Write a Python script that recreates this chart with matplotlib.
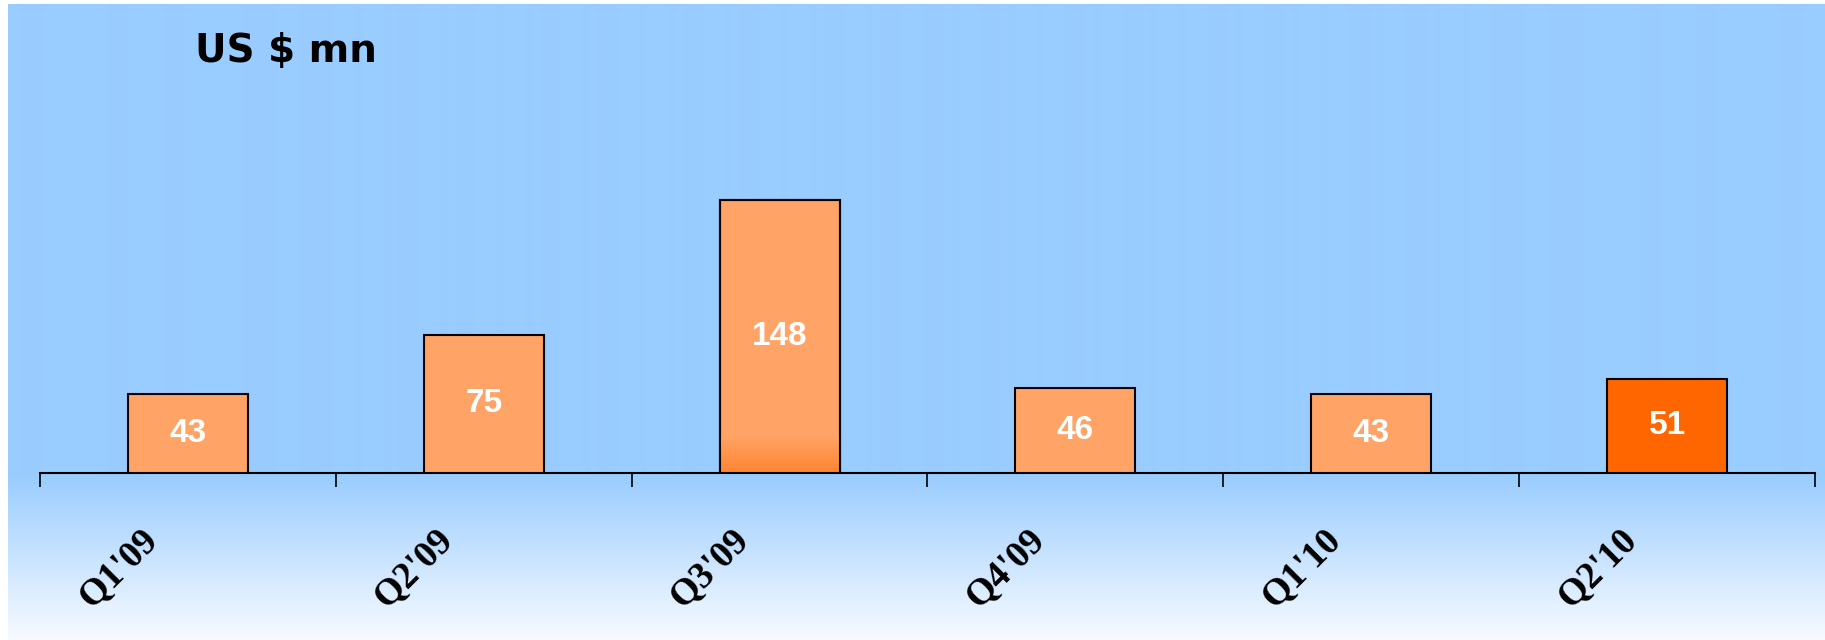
import numpy as np
import matplotlib
matplotlib.use('Agg')
from matplotlib import pyplot as plt
from matplotlib import transforms as mtransforms
from matplotlib.colors import to_rgb

# data
quarters = ["Q1'09", "Q2'09", "Q3'09", "Q4'09", "Q1'10", "Q2'10"]
values = [43, 75, 148, 46, 43, 51]
bar_colors = ['#FFA366', '#FFA366', '#FFA366', '#FFA366', '#FFA366', '#FF6600']

W, H = 1825, 640
fig = plt.figure(figsize=(W / 100, H / 100), dpi=100, facecolor='white')

# background: flat blue above the axis line, fading to white below it
bg = fig.add_axes([0, 0, 1, 1])
bg.set_xlim(0, W)
bg.set_ylim(H, 0)
bg.set_axis_off()
axis_y = 473
top_col = np.array(to_rgb('#99CCFF'))
bot_col = np.array(to_rgb('#F8FBFF'))
rows = np.arange(4, H)
t = np.clip((rows - axis_y) / (H - axis_y), 0, 1)[:, None]
grad = (top_col * (1 - t) + bot_col * t)[:, None, :]
bg.imshow(grad, extent=[8, W, H, 4], aspect='auto', interpolation='bilinear')

# main axes
ax = fig.add_axes([40 / W, (H - axis_y) / H, (1815 - 40) / W, (axis_y - 4) / H])
ax.patch.set_alpha(0)
x = np.arange(len(values))
bars = ax.bar(x, values, width=0.406, color=bar_colors, edgecolor='black', linewidth=1.5, zorder=3)

# darker fade at the foot of the tallest bar
b = bars[2]
fade = np.linspace(0, 1, 50)[:, None]
c0 = np.array(to_rgb('#FFA366'))
c1 = np.array(to_rgb('#FF8530'))
fimg = (c0 * (1 - fade) + c1 * fade)[:, None, :]
ax.imshow(fimg, extent=[b.get_x(), b.get_x() + b.get_width(), 0, 20], aspect='auto',
          interpolation='bilinear', zorder=3.5)
ax.bar(x[2], values[2], width=0.406, facecolor='none', edgecolor='black', linewidth=1.5, zorder=4)

for xi, v in zip(x, values):
    ax.text(xi, v / 2, str(v), ha='center', va='center', color='white',
            fontsize=24, fontweight='bold', family='Liberation Sans', zorder=5)

ax.set_xlim(-0.5, len(values) - 0.5)
ax.set_ylim(0, 254.3)
for s in ['left', 'right', 'top']:
    ax.spines[s].set_visible(False)
ax.spines['bottom'].set_linewidth(1.5)
ax.set_yticks([])
ax.set_xticks(np.arange(len(values) + 1) - 0.5)
ax.set_xticklabels([])
ax.tick_params(axis='x', direction='out', length=10, width=1.2, color='black')

lab_tr = mtransforms.offset_copy(ax.transData, fig=fig, x=-24, y=-49, units='dots')
for xi, q in zip(x, quarters):
    ax.text(xi, 0, q, transform=lab_tr, rotation=45, ha='right', va='top',
            fontsize=27, fontweight='bold', family='Liberation Serif', clip_on=False)

fig.text(195 / W, 1 - 62 / H, 'US $ mn', fontsize=28, fontweight='bold',
         family='DejaVu Sans', va='baseline', ha='left')

fig.savefig('out.png', dpi=100)
